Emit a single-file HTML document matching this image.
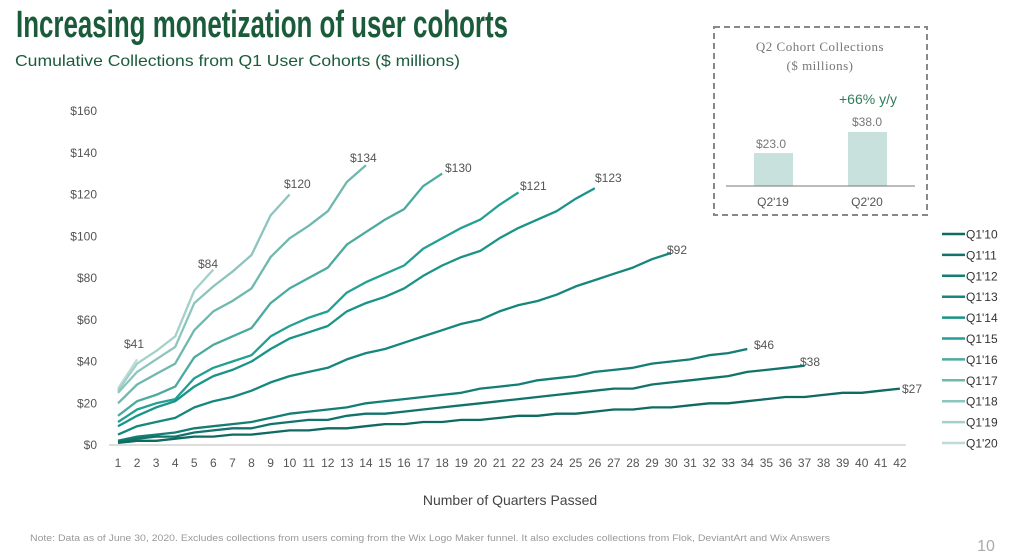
<!DOCTYPE html>
<html><head><meta charset="utf-8"><style>
html,body{margin:0;padding:0;background:#fff;}
svg{display:block;font-family:"Liberation Sans",Arial,sans-serif;}
</style></head><body>
<svg id="s" width="1023" height="559" viewBox="0 0 1023 559" xmlns="http://www.w3.org/2000/svg">
<text x="16" y="37" font-size="38" font-weight="bold" fill="#1a5c3a" textLength="492" lengthAdjust="spacingAndGlyphs">Increasing monetization of user cohorts</text>
<text x="15" y="66" font-size="16" fill="#1a5c3a" textLength="445" lengthAdjust="spacingAndGlyphs">Cumulative Collections from Q1 User Cohorts ($ millions)</text>
<g id="yt" font-size="12" fill="#555" text-anchor="end"></g>
<line x1="109" y1="445" x2="906" y2="445" stroke="#bbb" stroke-width="1"/>
<g id="xt" font-size="12" fill="#555" text-anchor="middle"></g>
<g id="lines" fill="none" stroke-width="2.3" stroke-linejoin="round"></g>
<g id="lbl" font-size="12" fill="#555"></g>
<g id="leg" font-size="12" fill="#333"></g>
<text x="510" y="505" font-size="14" fill="#444" text-anchor="middle">Number of Quarters Passed</text>
<text x="30" y="541" font-size="9" fill="#999" textLength="800" lengthAdjust="spacingAndGlyphs">Note: Data as of June 30, 2020. Excludes collections from users coming from the Wix Logo Maker funnel. It also excludes collections from Flok, DeviantArt and Wix Answers</text>
<text x="986" y="551" font-size="16" fill="#aaa" text-anchor="middle">10</text>
<rect x="714" y="27" width="213" height="188" fill="none" stroke="#888" stroke-width="2" stroke-dasharray="6,4"/>
<text x="820" y="51" font-size="13" fill="#777" text-anchor="middle" font-family="Liberation Serif,serif" letter-spacing="0.5">Q2 Cohort Collections</text>
<text x="820" y="70" font-size="13" fill="#777" text-anchor="middle" font-family="Liberation Serif,serif" letter-spacing="0.5">($ millions)</text>
<text x="868" y="104" font-size="14" fill="#2e7d5a" text-anchor="middle">+66% y/y</text>
<rect x="754" y="153" width="39" height="33" fill="#c8e1dd"/>
<rect x="848" y="132" width="39" height="54" fill="#c8e1dd"/>
<line x1="726" y1="186" x2="915" y2="186" stroke="#777" stroke-width="1"/>
<text x="771" y="148" font-size="12" fill="#777" text-anchor="middle">$23.0</text>
<text x="867" y="126" font-size="12" fill="#777" text-anchor="middle">$38.0</text>
<text x="773" y="206" font-size="12" fill="#555" text-anchor="middle">Q2'19</text>
<text x="867" y="206" font-size="12" fill="#555" text-anchor="middle">Q2'20</text>
</svg>
<script>
var NS="http://www.w3.org/2000/svg";
function X(i){return 118+(i-1)*19.07;}
function Y(v){return 445-v*2.0875;}
function el(p,t,a,txt){var e=document.createElementNS(NS,t);for(var k in a)e.setAttribute(k,a[k]);if(txt!=null)e.textContent=txt;document.getElementById(p).appendChild(e);return e;}
for(var v=0;v<=160;v+=20)el("yt","text",{x:97,y:Y(v)+4},"$"+v);
for(var i=1;i<=42;i++)el("xt","text",{x:X(i),y:467},""+i);
var D=[
[1,2,2,3,4,4,5,5,6,7,7,8,8,9,10,10,11,11,12,12,13,14,14,15,15,16,17,17,18,18,19,20,20,21,22,23,23,24,25,25,26,27],
[1.5,3,4,4,6,7,8,8,10,11,12,12,14,15,15,16,17,18,19,20,21,22,23,24,25,26,27,27,29,30,31,32,33,35,36,37,38],
[2,4,5,6,8,9,10,11,13,15,16,17,18,20,21,22,23,24,25,27,28,29,31,32,33,35,36,37,39,40,41,43,44,46],
[5,9,11,13,18,21,23,26,30,33,35,37,41,44,46,49,52,55,58,60,64,67,69,72,76,79,82,85,89,92],
[9,14,18,21,28,33,36,40,46,51,54,57,64,68,71,75,81,86,90,93,99,104,108,112,118,123],
[11,17,20,22,32,37,40,43,52,57,61,64,73,78,82,86,94,99,104,108,115,121],
[14,21,24,28,42,48,52,56,68,75,80,85,96,102,108,113,124,130],
[20,29,34,39,55,64,69,75,90,99,105,112,126,134],
[25,35,41,47,68,76,83,91,110,120],
[26,39,45,52,74,84],
[27,41]];
var C=["#0f6a62","#12736b","#147e75","#16877d","#1a9488","#22a093","#4daa9f","#6fb8ae","#8cc5bd","#a3d1ca","#bcdcd7"];
var N=["Q1'10","Q1'11","Q1'12","Q1'13","Q1'14","Q1'15","Q1'16","Q1'17","Q1'18","Q1'19","Q1'20"];
var L=[["$27",902,393],["$38",800,366],["$46",754,349],["$92",667,254],["$123",595,182],["$121",520,190],["$130",445,172],["$134",350,162],["$120",284,188],["$84",198,268],["$41",124,348]];
for(var s=D.length-1;s>=0;s--){var p="";D[s].forEach(function(v,i){p+=(i?"L":"M")+X(i+1).toFixed(1)+","+Y(v).toFixed(1);});
el("lines","path",{d:p,stroke:C[s]});}
L.forEach(function(l){el("lbl","text",{x:l[1],y:l[2]},l[0]);});
N.forEach(function(n,i){var y=234+i*20.9;el("leg","line",{x1:942,y1:y,x2:965,y2:y,stroke:C[i],"stroke-width":2.5});el("leg","text",{x:966,y:y+4.5},n);});
</script>
</body></html>
